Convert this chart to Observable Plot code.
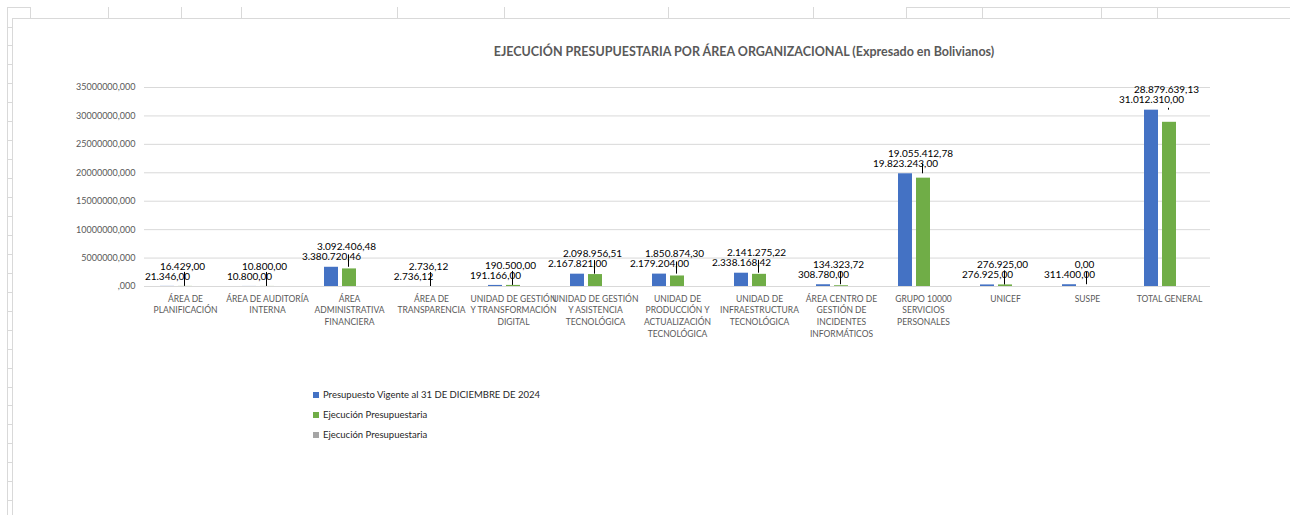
<!DOCTYPE html>
<html>
<head>
<meta charset="utf-8">
<script src="https://cdn.jsdelivr.net/npm/d3@7"></script>
<script src="https://cdn.jsdelivr.net/npm/@observablehq/plot@0.6"></script>
<style>
  html, body { margin: 0; padding: 0; background: #fff; }
  #page { position: relative; width: 1290px; height: 515px; overflow: hidden; font-family: Lato, "Open Sans", sans-serif; }
  .deco { position: absolute; background: #d9d9d9; }
  #title { position: absolute; top: 44px; left: 0; width: 1488px; text-align: center; font-weight: bold; font-size: 12.5px; color: #595959; }
  #chart { position: absolute; top: 70px; left: 0; }
  #legend { position: absolute; left: 313px; top: 385px; font-size: 9.5px; color: #262626; }
  #legend div { height: 20px; line-height: 14px; display: flex; align-items: center; }
  #legend span.sw { display: inline-block; width: 6px; height: 6px; margin-right: 4px; }
</style>
</head>
<body>
<div id="page">
  <div id="title">EJECUCIÓN PRESUPUESTARIA POR ÁREA ORGANIZACIONAL (Expresado en Bolivianos)</div>
  <div id="chart"></div>
  <div id="legend"></div>
</div>
<script>
// ---- data ----
const categories = [
  "ÁREA DE PLANIFICACIÓN",
  "ÁREA DE AUDITORÍA INTERNA",
  "ÁREA ADMINISTRATIVA FINANCIERA",
  "ÁREA DE TRANSPARENCIA",
  "UNIDAD DE GESTIÓN Y TRANSFORMACIÓN DIGITAL",
  "UNIDAD DE GESTIÓN Y ASISTENCIA TECNOLÓGICA",
  "UNIDAD DE PRODUCCIÓN Y ACTUALIZACIÓN TECNOLÓGICA",
  "UNIDAD DE INFRAESTRUCTURA TECNOLÓGICA",
  "ÁREA CENTRO DE GESTIÓN DE INCIDENTES INFORMÁTICOS",
  "GRUPO 10000 SERVICIOS PERSONALES",
  "UNICEF",
  "SUSPE",
  "TOTAL GENERAL"
];
const categoryTickLabels = [
  "ÁREA DE\nPLANIFICACIÓN",
  "ÁREA DE AUDITORÍA\nINTERNA",
  "ÁREA\nADMINISTRATIVA\nFINANCIERA",
  "ÁREA DE\nTRANSPARENCIA",
  "UNIDAD DE GESTIÓN\nY TRANSFORMACIÓN\nDIGITAL",
  "UNIDAD DE GESTIÓN\nY ASISTENCIA\nTECNOLÓGICA",
  "UNIDAD DE\nPRODUCCIÓN Y\nACTUALIZACIÓN\nTECNOLÓGICA",
  "UNIDAD DE\nINFRAESTRUCTURA\nTECNOLÓGICA",
  "ÁREA CENTRO DE\nGESTIÓN DE\nINCIDENTES\nINFORMÁTICOS",
  "GRUPO 10000\nSERVICIOS\nPERSONALES",
  "UNICEF",
  "SUSPE",
  "TOTAL GENERAL"
];
const presupuestoVigente = [21346.00, 10800.00, 3380720.46, 2736.12, 191166.00, 2167821.00, 2179204.00, 2338168.42, 308780.00, 19823243.00, 276925.00, 311400.00, 31012310.00];
const ejecucionPresupuestaria = [16429.00, 10800.00, 3092406.48, 2736.12, 190500.00, 2098956.51, 1850874.30, 2141275.22, 134323.72, 19055412.78, 276925.00, 0.00, 28879639.13];
const seriesKeys = ["s1", "s2", "s3"];
const seriesNames = ["Presupuesto Vigente al 31 DE DICIEMBRE DE 2024", "Ejecución Presupuestaria", "Ejecución Presupuestaria"];
const seriesColors = ["#4472C4", "#70AD47", "#A5A5A5"];
const yTicks = [0, 5000000, 10000000, 15000000, 20000000, 25000000, 30000000, 35000000];

// ---- helpers ----
const esNum = v => d3.format(",.2f")(v).replace(/,/g, "#").replace(/\./g, ",").replace(/#/g, ".");
const yFmt = v => (v === 0 ? "" : String(v)) + ",000";
const tickLabelMap = new Map(categories.map((c, i) => [c, categoryTickLabels[i]]));

const rows = categories.map((c, i) => ({cat: c, b: presupuestoVigente[i], g: ejecucionPresupuestaria[i]}));
const long = categories.flatMap((c, i) => [
  {cat: c, series: "s1", value: presupuestoVigente[i]},
  {cat: c, series: "s2", value: ejecucionPresupuestaria[i]}
]);

const chart = Plot.plot({
  width: 1290,
  height: 300,
  marginTop: 17,
  marginBottom: 84,
  marginLeft: 138,
  marginRight: 74,
  style: {fontFamily: "Lato, 'Open Sans', sans-serif", background: "transparent"},
  fx: {domain: categories, padding: 0, label: null},
  x: {domain: seriesKeys, paddingInner: 0.243, paddingOuter: 0.862, axis: null},
  y: {domain: [0, 35000000], label: null},
  color: {domain: seriesKeys, range: seriesColors},
  marks: [
    Plot.gridY(yTicks, {stroke: "#d9d9d9", strokeOpacity: 1}),
    Plot.axisY(yTicks, {tickSize: 0, tickPadding: 9, tickFormat: yFmt, fontSize: 9, color: "#595959", label: null}),
    Plot.axisFx({anchor: "bottom", tickSize: 0, tickPadding: 7, tickFormat: d => tickLabelMap.get(d), fontSize: 8.5, lineHeight: 1.37, color: "#595959", label: null}),
    Plot.barY(long, {fx: "cat", x: "series", y: "value", fill: "series"}),
    Plot.ruleX(rows, {fx: "cat", x: () => "s2", y1: "g", y2: d => Math.max(d.b, d.g), insetTop: -14, dx: -1, stroke: "#000", strokeWidth: 1}),
    Plot.text(rows, {fx: "cat", x: () => "s1", y: "b", text: d => esNum(d.b), dy: -10, fontSize: 10, fill: "#000"}),
    Plot.text(rows, {fx: "cat", x: () => "s2", y: d => Math.max(d.b, d.g), text: d => esNum(d.g), dy: -20, dx: -3, fontSize: 10, fill: "#000"})
  ]
});
document.getElementById("chart").appendChild(chart);

// ---- legend ----
const legend = document.getElementById("legend");
seriesNames.forEach((n, i) => {
  const row = document.createElement("div");
  row.innerHTML = `<span class="sw" style="background:${seriesColors[i]}"></span><span>${n}</span>`;
  legend.appendChild(row);
});

// ---- worksheet frame decoration ----
const page = document.getElementById("page");
function deco(l, t, w, h) {
  const d = document.createElement("div");
  d.className = "deco";
  Object.assign(d.style, {left: l + "px", top: t + "px", width: w + "px", height: h + "px"});
  page.appendChild(d);
}
deco(12, 18, 1278, 1);     // chart top border
deco(12, 18, 1, 497);      // chart left border
deco(7, 7, 1, 508);        // gutter line
deco(7, 7, 23, 1);         // corner box top
deco(906, 7, 384, 1);      // top line right part
[30, 108, 181, 241, 397, 504, 668, 813, 906, 982, 1101, 1157].forEach(x => deco(x, 7, 1, 11));
for (let y = 26.5; y < 515; y += 18.95) deco(7, Math.round(y), 5, 1);
</script>
</body>
</html>
